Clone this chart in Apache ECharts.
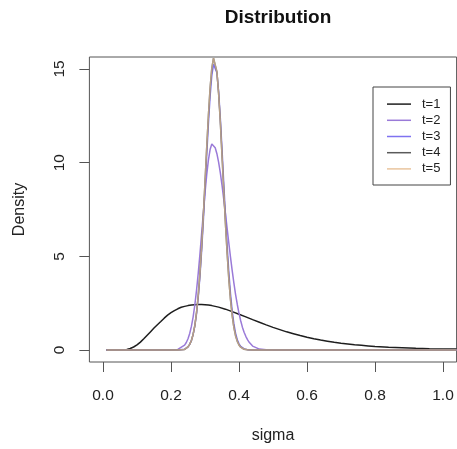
<!DOCTYPE html>
<html>
<head>
<meta charset="utf-8">
<script src="https://cdn.jsdelivr.net/npm/echarts@6/dist/echarts.min.js"></script>
<style>
html,body{margin:0;padding:0;background:#fff;}
#chart{width:457px;height:449px;}
</style>
</head>
<body>
<div id="chart"></div>
<script>
// ---- data ----
const seriesNames = ['t=1', 't=2', 't=3', 't=4', 't=5'];
const xTicks = [0, 0.2, 0.4, 0.6, 0.8, 1.0];
const yTicks = [0, 5, 10, 15];

// broad curve (t=1)
const sigmaBroad = [0.01, 0.03, 0.05, 0.06, 0.07, 0.08, 0.09, 0.10, 0.11, 0.12, 0.13, 0.14, 0.15, 0.16, 0.17, 0.18, 0.19, 0.20,
  0.21, 0.22, 0.23, 0.24, 0.25, 0.26, 0.27, 0.28, 0.29, 0.30, 0.31, 0.32, 0.34, 0.36, 0.38, 0.40, 0.42, 0.44, 0.46, 0.48,
  0.50, 0.52, 0.54, 0.56, 0.58, 0.60, 0.62, 0.64, 0.66, 0.68, 0.70, 0.72, 0.74, 0.76, 0.78, 0.80, 0.84, 0.88, 0.92, 0.96, 1.00, 1.04];
const densT1 = [0, 0, 0, 0.01, 0.03, 0.08, 0.16, 0.27, 0.42, 0.60, 0.79, 0.98, 1.17, 1.35, 1.52, 1.70, 1.86, 1.99,
  2.10, 2.20, 2.28, 2.33, 2.37, 2.40, 2.42, 2.43, 2.43, 2.42, 2.40, 2.37, 2.29, 2.18, 2.05, 1.91, 1.77, 1.62, 1.48, 1.34,
  1.21, 1.09, 0.97, 0.87, 0.77, 0.68, 0.60, 0.53, 0.47, 0.41, 0.36, 0.32, 0.28, 0.25, 0.22, 0.19, 0.15, 0.12, 0.09, 0.07, 0.06, 0.05];

// narrow curves (t=2 .. t=5)
const sigmaNarrow = [0.01, 0.20, 0.22, 0.24, 0.245, 0.25, 0.255, 0.26, 0.265, 0.27, 0.275, 0.28, 0.285, 0.29, 0.295,
  0.30, 0.305, 0.31, 0.315, 0.32, 0.325, 0.33, 0.335, 0.34, 0.345, 0.35, 0.355, 0.36, 0.365, 0.37, 0.375, 0.38, 0.385,
  0.39, 0.395, 0.40, 0.405, 0.41, 0.415, 0.42, 0.425, 0.43, 0.44, 0.46, 0.48, 0.50, 1.04];
const densT2 = [0, 0, 0.03, 0.26, 0.40, 0.60, 0.88, 1.26, 1.76, 2.40, 3.17, 4.08, 5.10, 6.20, 7.30,
  8.38, 9.35, 10.14, 10.70, 11.00, 10.98, 10.80, 10.48, 10.03, 9.47, 8.80, 8.07, 7.31, 6.51, 5.72, 4.96, 4.24, 3.57,
  2.96, 2.43, 1.96, 1.56, 1.22, 0.95, 0.73, 0.55, 0.41, 0.21, 0.05, 0.01, 0, 0];
const densT3 = [0, 0, 0, 0.04, 0.09, 0.17, 0.30, 0.50, 0.82, 1.28, 1.92, 2.79, 3.91, 5.28, 6.86,
  8.60, 10.38, 12.08, 13.55, 14.65, 15.25, 15.30, 14.80, 13.80, 12.39, 10.73, 8.95, 7.20, 5.59, 4.17, 3.00, 2.08, 1.39,
  0.89, 0.55, 0.33, 0.19, 0.11, 0.06, 0.03, 0.02, 0.01, 0, 0, 0, 0, 0];
const densT4 = [0, 0, 0, 0.03, 0.09, 0.17, 0.30, 0.51, 0.83, 1.30, 1.99, 2.89, 4.06, 5.49, 7.14,
  8.95, 10.80, 12.50, 13.98, 15.03, 15.58, 15.52, 14.86, 13.70, 12.20, 10.40, 8.58, 6.80, 5.19, 3.80, 2.69, 1.83, 1.20,
  0.75, 0.46, 0.27, 0.15, 0.08, 0.04, 0.02, 0.01, 0, 0, 0, 0, 0, 0];
const densT5 = [0, 0, 0, 0.03, 0.09, 0.17, 0.30, 0.51, 0.83, 1.30, 1.99, 2.89, 4.06, 5.49, 7.14,
  8.95, 10.80, 12.50, 13.98, 15.03, 15.58, 15.52, 14.86, 13.70, 12.20, 10.40, 8.58, 6.80, 5.19, 3.80, 2.69, 1.83, 1.20,
  0.75, 0.46, 0.27, 0.15, 0.08, 0.04, 0.02, 0.01, 0, 0, 0, 0, 0, 0];

const colors = ['#1e1e1e', '#9a7ad8', '#7f72f0', '#5a5a5a', '#e9c49e'];

function pairs(xs, ys) { return xs.map((x, i) => [x, ys[i]]); }
const seriesData = [
  pairs(sigmaBroad, densT1),
  pairs(sigmaNarrow, densT2),
  pairs(sigmaNarrow, densT3),
  pairs(sigmaNarrow, densT4),
  pairs(sigmaNarrow, densT5)
];

const FONT = '"Liberation Sans", Arial, sans-serif';
const chart = echarts.init(document.getElementById('chart'), null, {renderer: 'canvas'});
chart.setOption({
  animation: false,
  backgroundColor: '#ffffff',
  title: {
    text: 'Distribution',
    left: 273, top: 3, textAlign: 'center',
    textStyle: {fontFamily: FONT, fontWeight: 'bold', fontSize: 19, color: '#111'}
  },
  legend: {
    orient: 'vertical',
    left: 373, top: 87,
    padding: [9, 10, 8, 14],
    icon: 'rect',
    itemWidth: 24, itemHeight: 1.5, itemGap: 0,
    borderColor: '#444', borderWidth: 1,
    data: seriesNames,
    textStyle: {fontFamily: FONT, fontSize: 13, lineHeight: 16.2, color: '#222', padding: [0, 0, 0, 6]}
  },
  grid: {
    left: 89.4, top: 57, width: 367.2, height: 306,
    show: true, borderColor: '#555', borderWidth: 1, backgroundColor: 'transparent'
  },
  xAxis: {
    type: 'value', min: -0.04, max: 1.04,
    name: 'sigma', nameLocation: 'middle', nameGap: 66,
    nameTextStyle: {fontFamily: FONT, fontSize: 16, color: '#222'},
    axisLine: {show: false, onZero: false},
    axisTick: {show: true, length: 10, customValues: xTicks, lineStyle: {color: '#555'}},
    axisLabel: {customValues: xTicks, margin: 26, fontFamily: FONT, fontSize: 15.5, color: '#222',
      formatter: v => v.toFixed(1)},
    splitLine: {show: false}
  },
  yAxis: {
    type: 'value', min: -0.64, max: 15.64,
    name: 'Density', nameLocation: 'middle', nameGap: 62,
    nameTextStyle: {fontFamily: FONT, fontSize: 16, color: '#222'},
    axisLine: {show: false, onZero: false},
    axisTick: {show: true, length: 10, customValues: yTicks, lineStyle: {color: '#555'}},
    axisLabel: {customValues: yTicks, rotate: 90, margin: 22, fontFamily: FONT, fontSize: 15.5, color: '#222',
      formatter: v => String(v)},
    splitLine: {show: false}
  },
  series: seriesNames.map((name, i) => ({
    name: name,
    type: 'line',
    data: seriesData[i],
    symbol: 'none',
    smooth: false,
    color: colors[i],
    lineStyle: {width: 1.5, color: colors[i], opacity: i === 4 ? 0.65 : 1},
    z: 2 + i
  }))
});
</script>
</body>
</html>
